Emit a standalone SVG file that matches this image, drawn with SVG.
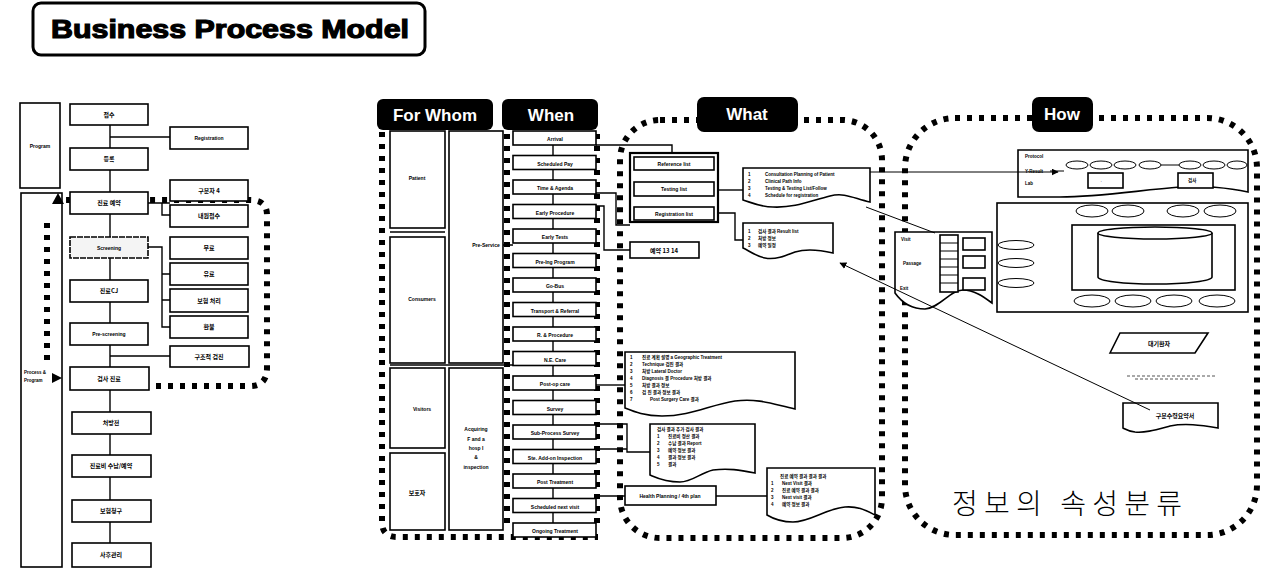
<svg xmlns="http://www.w3.org/2000/svg" width="1263" height="571" viewBox="0 0 1263 571">
<defs>
<style>
.bx{fill:#fff;stroke:#000;stroke-width:1.6}
.tk{fill:#fff;stroke:#000;stroke-width:2.2}
.ln{fill:none;stroke:#000;stroke-width:1.4}
.thin{fill:none;stroke:#000;stroke-width:1}
.dot{fill:none;stroke:#000;stroke-width:6;stroke-dasharray:5 7}
.hdr{fill:#000}
.ht{fill:#fff;font-family:"Liberation Sans",Arial,sans-serif;font-weight:bold;font-size:17px;text-anchor:middle}
.s{font-family:"Liberation Sans","Noto Sans CJK KR",sans-serif;font-weight:bold;font-size:5px;fill:#000;text-anchor:middle}
.k{font-family:"Noto Sans CJK KR",sans-serif;font-weight:bold;font-size:6px;fill:#000;text-anchor:middle}
.d{font-family:"Liberation Sans","Noto Sans CJK KR",sans-serif;font-weight:bold;font-size:4.5px;fill:#000}
</style>
<marker id="ah" viewBox="0 0 10 10" refX="9" refY="5" markerWidth="7" markerHeight="7" orient="auto"><path d="M0,0 L10,5 L0,10 Z" fill="#000"/></marker>
</defs>
<rect width="1263" height="571" fill="#fff"/>

<g id="title">
<rect x="33" y="3" width="392" height="52" rx="8" fill="#fff" stroke="#000" stroke-width="3"/>
<text x="230" y="38" font-family="'Liberation Sans',Arial,sans-serif" font-weight="bold" font-size="26" text-anchor="middle" textLength="358" lengthAdjust="spacingAndGlyphs" stroke="#000" stroke-width="1.2">Business Process Model</text>
</g>

<!-- ===== Left process ===== -->
<g id="left-program"><rect class="bx" x="20" y="103" width="40" height="85"/><text class="s" x="40" y="148">Program</text></g>
<g id="left-main"><rect class="bx" x="21" y="193" width="41" height="374"/><text class="d" x="24" y="374">Process &amp;</text><text class="d" x="24" y="382">Program</text></g>

<g id="left-connectors">
<path class="ln" d="M110,125 V148 M110,170 V192 M110,214 V237 M110,258 V280 M110,302 V323 M110,345 V367 M110,390 V412 M110,434 V455 M110,477 V500 M110,522 V543"/>
<path class="ln" d="M110,137 H170 M148,203 H170 M162,203 V215 H170 M148,247 H162 V327 H170 M162,274 H170 M162,300 H170 M110,356 H170"/>
<path class="dot" d="M72,386 H250 Q267,386 267,368 V215 Q267,200 250,200 H64"/>
<path class="dot" d="M47,360 V222"/>
<path d="M58,193 L52,204 L64,204 Z" fill="#000"/>
<path d="M62,378 L52,373 L52,383 Z" fill="#000"/>
</g>

<g id="l1"><rect class="bx" x="70" y="104" width="78" height="21"/><text class="k" x="109" y="117">접수</text></g>
<g id="l-reg"><rect class="bx" x="170" y="127" width="78" height="22"/><text class="s" x="209" y="140">Registration</text></g>
<g id="l2"><rect class="bx" x="70" y="148" width="78" height="22"/><text class="k" x="109" y="161">등록</text></g>
<g id="l3"><rect class="bx" x="70" y="192" width="78" height="22"/><text class="k" x="109" y="205">진료 예약</text></g>
<g id="l3a"><rect class="bx" x="170" y="180" width="78" height="21"/><text class="k" x="209" y="193">구분자 4</text></g>
<g id="l3b"><rect class="bx" x="170" y="205" width="78" height="22"/><text class="k" x="209" y="218">내원접수</text></g>
<g id="l4"><rect x="70" y="237" width="78" height="21" fill="#f4f4f4" stroke="#000" stroke-width="1.6" stroke-dasharray="6 1"/><text class="s" x="109" y="250">Screening</text></g>
<g id="l4a"><rect class="bx" x="170" y="237" width="78" height="22"/><text class="k" x="209" y="250">무료</text></g>
<g id="l4b"><rect class="bx" x="170" y="263" width="78" height="22"/><text class="k" x="209" y="276">유료</text></g>
<g id="l4c"><rect class="bx" x="170" y="289" width="78" height="23"/><text class="k" x="209" y="303">보험 처리</text></g>
<g id="l4d"><rect class="bx" x="170" y="316" width="78" height="22"/><text class="k" x="209" y="329">환불</text></g>
<g id="l5"><rect class="bx" x="70" y="280" width="78" height="22"/><text class="k" x="109" y="293">진료CJ</text></g>
<g id="l6"><rect class="bx" x="70" y="323" width="78" height="22"/><text class="s" x="109" y="336">Pre-screening</text></g>
<g id="l6a"><rect class="bx" x="170" y="346" width="79" height="21"/><text class="k" x="209" y="359">구조적 검진</text></g>
<g id="l7"><rect class="bx" x="70" y="367" width="79" height="23"/><text class="k" x="109" y="381">검사 진료</text></g>
<g id="l8"><rect class="bx" x="72" y="412" width="79" height="22"/><text class="k" x="111" y="425">처방전</text></g>
<g id="l9"><rect class="bx" x="72" y="455" width="79" height="22"/><text class="k" x="111" y="468">진료비 수납/예약</text></g>
<g id="l10"><rect class="bx" x="72" y="500" width="79" height="22"/><text class="k" x="111" y="513">보험청구</text></g>
<g id="l11"><rect class="bx" x="72" y="543" width="79" height="24"/><text class="k" x="111" y="557">사후관리</text></g>

<!-- ===== For Whom / When ===== -->
<g id="frame-fw">
<path class="dot" d="M382,132 V522 Q382,537 397,537 H598"/>
<path class="dot" d="M507,134 V530"/>
<path class="dot" d="M597,134 V530"/>
</g>
<g id="forwhom">
<rect class="hdr" x="377" y="99" width="116" height="31" rx="6"/><text class="ht" x="435" y="121">For Whom</text>
<rect class="bx" x="390" y="131" width="55" height="97"/><text class="s" x="417" y="180">Patient</text>
<rect class="bx" x="390" y="237" width="55" height="126"/><text class="s" x="422" y="301">Consumers</text>
<rect class="bx" x="390" y="368" width="55" height="80"/><text class="s" x="422" y="411">Visitors</text>
<rect class="bx" x="390" y="453" width="55" height="77"/><text class="k" x="417" y="495">보호자</text>
<rect class="bx" x="449" y="131" width="54" height="232"/><text class="s" x="486" y="247">Pre-Service</text>
<rect class="bx" x="449" y="368" width="54" height="162"/>
<text class="s" x="476" y="431">Acquiring</text><text class="s" x="476" y="441">F and a</text><text class="s" x="476" y="450">hosp I</text><text class="s" x="476" y="459">&amp;</text><text class="s" x="476" y="469">inspection</text>
</g>
<g id="when">
<rect class="hdr" x="502" y="99" width="96" height="31" rx="6"/><text class="ht" x="551" y="121">When</text>
<rect class="bx" x="513" y="131" width="83" height="14"/><text class="s" x="555" y="141">Arrival</text>
<rect class="bx" x="513" y="155.5" width="83" height="14"/><text class="s" x="555" y="165.5">Scheduled Pay</text>
<rect class="bx" x="513" y="180" width="83" height="14"/><text class="s" x="555" y="190">Time &amp; Agenda</text>
<rect class="bx" x="513" y="204.5" width="83" height="14"/><text class="s" x="555" y="214.5">Early Procedure</text>
<rect class="bx" x="513" y="229" width="83" height="14"/><text class="s" x="555" y="239">Early Tests</text>
<rect class="bx" x="513" y="253.5" width="83" height="14"/><text class="s" x="555" y="263.5">Pre-Ing Program</text>
<rect class="bx" x="513" y="278" width="83" height="14"/><text class="s" x="555" y="288">Go-Bus</text>
<rect class="bx" x="513" y="302.5" width="83" height="14"/><text class="s" x="555" y="312.5">Transport &amp; Referral</text>
<rect class="bx" x="513" y="327" width="83" height="14"/><text class="s" x="555" y="337">R. &amp; Procedure</text>
<rect class="bx" x="513" y="351.5" width="83" height="14"/><text class="s" x="555" y="361.5">N.E. Care</text>
<rect class="bx" x="513" y="376" width="83" height="14"/><text class="s" x="555" y="386">Post-op care</text>
<rect class="bx" x="513" y="400.5" width="83" height="14"/><text class="s" x="555" y="410.5">Survey</text>
<rect class="bx" x="513" y="425" width="83" height="14"/><text class="s" x="555" y="435">Sub-Process Survey</text>
<rect class="bx" x="513" y="449.5" width="83" height="14"/><text class="s" x="555" y="459.5">Ste. Add-on Inspection</text>
<rect class="bx" x="513" y="474" width="83" height="14"/><text class="s" x="555" y="484">Post Treatment</text>
<rect class="bx" x="513" y="498.5" width="83" height="14"/><text class="s" x="555" y="508.5">Scheduled next visit</text>
<rect class="bx" x="513" y="523" width="83" height="14"/><text class="s" x="555" y="533">Ongoing Treatment</text>
</g>

<!-- ===== What ===== -->
<g id="frame-what"><rect class="dot" x="620" y="120" width="262" height="418" rx="40"/></g>
<g id="what-hdr"><rect class="hdr" x="697" y="97" width="101" height="35" rx="7"/><text class="ht" x="747" y="120">What</text></g>
<g id="stack">
<rect class="tk" x="630" y="153" width="88" height="69"/>
<rect class="bx" x="634" y="157" width="80" height="13"/><text class="s" x="674" y="166">Reference list</text>
<rect class="bx" x="634" y="182" width="80" height="14"/><text class="s" x="674" y="191">Testing list</text>
<rect class="bx" x="634" y="207" width="80" height="13"/><text class="s" x="674" y="216">Registration list</text>
</g>
<g id="sched"><rect class="bx" x="630" y="242" width="69" height="16"/><text class="k" x="664" y="253">예약 13 14</text></g>
<g id="doc1"><path class="bx" d="M743,168 H870 V202 C855,199 845,192 830,196 C810,201 795,208 773,207 C760,207 750,202 743,200 Z"/>
<text class="d" x="748" y="176">1</text><text class="d" x="765" y="176">Consultation Planning of Patient</text>
<text class="d" x="748" y="183">2</text><text class="d" x="765" y="183">Clinical Path Info</text>
<text class="d" x="748" y="190">3</text><text class="d" x="765" y="190">Testing &amp;  Testing List/Follow</text>
<text class="d" x="748" y="197">4</text><text class="d" x="765" y="197">Schedule for registration</text></g>
<g id="doc2"><path class="bx" d="M743,223 H833 V253 C820,250 805,249 795,252 C785,256 775,260 765,258 C755,256 748,250 743,248 Z"/>
<text class="d" x="748" y="233">1</text><text class="d" x="758" y="233">검사 결과   Result list</text>
<text class="d" x="748" y="240">2</text><text class="d" x="758" y="240">처방 정보</text>
<text class="d" x="748" y="247">3</text><text class="d" x="758" y="247">예약 일정</text></g>
<g id="doc3"><path class="bx" d="M625,352 H795 V409 C775,405 760,398 735,401 C710,405 690,416 662,416 C645,416 635,412 625,408 Z"/>
<text class="d" x="630" y="359">1</text><text class="d" x="642" y="359">진료 계획 설명 a Geographic   Treatment</text>
<text class="d" x="630" y="366">2</text><text class="d" x="642" y="366">Technique 검진 결과</text>
<text class="d" x="630" y="373">3</text><text class="d" x="642" y="373">처방   Lateral Doctor</text>
<text class="d" x="630" y="380">4</text><text class="d" x="642" y="380">Diagnosis 결    Procedure 처방 결과</text>
<text class="d" x="630" y="387">5</text><text class="d" x="642" y="387">처방 결과 정보</text>
<text class="d" x="630" y="394">6</text><text class="d" x="642" y="394">검 진  결과  정보  결과</text>
<text class="d" x="630" y="401">7</text><text class="d" x="650" y="401">Post Surgery Care  결과</text></g>
<g id="doc4"><path class="bx" d="M650,424 H755 V473 C740,470 728,468 713,470 C700,473 692,482 680,482 C665,482 657,478 650,475 Z"/>
<text class="d" x="657" y="431">검사 결과  추가 검사  결과</text>
<text class="d" x="657" y="438">1</text><text class="d" x="668" y="438">진료비 정산  결과</text>
<text class="d" x="657" y="445">2</text><text class="d" x="668" y="445">수납 결과 Report</text>
<text class="d" x="657" y="452">3</text><text class="d" x="668" y="452">예약 정보  결과</text>
<text class="d" x="657" y="459">4</text><text class="d" x="668" y="459">결과 정보  결과</text>
<text class="d" x="657" y="466">5</text><text class="d" x="668" y="466">결과</text></g>
<g id="health"><rect class="bx" x="625" y="486" width="91" height="19"/><text class="s" x="670" y="498">Health Planning / 4th plan</text></g>
<g id="doc5"><path class="bx" d="M767,468 H875 V515 C865,510 858,506 845,507 C825,509 810,522 793,522 C780,522 772,518 767,515 Z"/>
<text class="d" x="780" y="478">진료 예약 결과  결과 결과</text>
<text class="d" x="771" y="485">1</text><text class="d" x="782" y="485">Next Visit  결과</text>
<text class="d" x="771" y="492">2</text><text class="d" x="782" y="492">진료 예약 결과  결과</text>
<text class="d" x="771" y="499">3</text><text class="d" x="782" y="499">Next visit  결과</text>
<text class="d" x="771" y="506">4</text><text class="d" x="782" y="506">예약 정보  결과</text></g>

<!-- ===== How ===== -->
<g id="frame-how"><rect class="dot" x="905" y="118" width="352" height="417" rx="50"/></g>
<g id="how-hdr"><rect class="hdr" x="1032" y="97" width="61" height="35" rx="7"/><text class="ht" x="1062" y="120">How</text></g>
<g id="how-top">
<path class="bx" d="M1018,150 H1248 V192 C1230,188 1200,185 1180,187 C1140,190 1100,197 1060,197 L1018,197 Z"/>
<text class="d" x="1025" y="158">Protocol</text><text class="d" x="1025" y="173">Y-Result</text><text class="d" x="1025" y="185">Lab</text>
<path class="thin" d="M1050,171 H1064"/>
<ellipse class="thin" cx="1077" cy="165" rx="11" ry="4"/><ellipse class="thin" cx="1101" cy="165" rx="11" ry="4"/><ellipse class="thin" cx="1125" cy="165" rx="11" ry="4"/><ellipse class="thin" cx="1150" cy="165" rx="11" ry="4"/><ellipse class="thin" cx="1190" cy="165" rx="11" ry="4"/><ellipse class="thin" cx="1214" cy="165" rx="11" ry="4"/><ellipse class="thin" cx="1237" cy="165" rx="10" ry="4"/>
<path class="thin" d="M1161,165 H1179"/>
<rect class="bx" x="1088" y="173" width="35" height="15"/><text class="d" x="1098" y="182">→</text>
<rect class="bx" x="1178" y="173" width="35" height="15"/><text class="d" x="1188" y="182">검사</text>
</g>
<g id="how-main">
<rect class="bx" x="997" y="203" width="251" height="109"/>
<rect class="bx" x="1072" y="225" width="163" height="65"/>
<path class="bx" d="M1098,233 V277 A57,7 0 0 0 1212,277 V233"/>
<ellipse class="bx" cx="1155" cy="233" rx="57" ry="6"/>
<ellipse class="thin" cx="1092" cy="211" rx="16" ry="6"/><ellipse class="thin" cx="1128" cy="211" rx="16" ry="6"/><ellipse class="thin" cx="1183" cy="211" rx="16" ry="6"/><ellipse class="thin" cx="1220" cy="211" rx="16" ry="6"/>
<ellipse class="thin" cx="1092" cy="301" rx="18" ry="6"/><ellipse class="thin" cx="1133" cy="301" rx="18" ry="6"/><ellipse class="thin" cx="1174" cy="301" rx="18" ry="6"/><ellipse class="thin" cx="1217" cy="301" rx="18" ry="6"/>
<ellipse class="thin" cx="1016" cy="245" rx="18" ry="4.5"/><ellipse class="thin" cx="1016" cy="263" rx="18" ry="4.5"/><ellipse class="thin" cx="1016" cy="283" rx="18" ry="4.5"/>
</g>
<g id="how-patient">
<path class="bx" d="M895,232 H992 V303 C985,298 975,290 963,290 C950,290 940,308 925,309 C910,309 900,300 895,293 Z"/>
<text class="d" x="901" y="241">Visit</text><text class="d" x="903" y="265">Passage</text><text class="d" x="900" y="290">Exit</text>
<rect class="bx" x="940" y="235" width="18" height="57"/>
<path class="thin" d="M940,243 H958 M940,251 H958 M940,259 H958 M940,267 H958 M940,275 H958 M940,283 H958"/>
<rect class="bx" x="963" y="238" width="22" height="12"/><rect class="bx" x="963" y="256" width="22" height="12"/><rect class="bx" x="963" y="278" width="22" height="12"/>
</g>
<g id="how-para"><path class="bx" d="M1110,353 L1120,333 H1208 L1195,353 Z"/><text class="k" x="1159" y="346">대기환자</text></g>
<g id="how-smudge"><path d="M1127,376 H1215 M1135,379 H1200" fill="none" stroke="#555" stroke-width="1" stroke-dasharray="3 2"/></g>
<g id="how-doc"><path class="bx" d="M1123,403 H1218 V428 C1200,425 1185,423 1170,426 C1155,430 1145,433 1135,432 C1128,431 1125,429 1123,428 Z"/><text class="k" x="1175" y="418">구분수령요약서</text></g>
<g id="how-caption"><text x="1067" y="514" font-family="'Noto Sans CJK KR',sans-serif" font-size="28" font-weight="300" text-anchor="middle" textLength="230" lengthAdjust="spacing">정보의 속성분류</text></g>

<g id="connectors">
<path class="ln" d="M553,145 V155.5 M553,169.5 V180 M553,194 V204.5 M553,218.5 V229 M553,243 V253.5 M553,267.5 V278 M553,292 V302.5 M553,316.5 V327 M553,341 V351.5 M553,365.5 V376 M553,390 V400.5 M553,414.5 V425 M553,439 V449.5 M553,463.5 V474 M553,488 V498.5 M553,512.5 V523"/>
<path class="ln" d="M503,245 H513 M445,232 H390 M390,365 H513"/>
<path class="ln" d="M596,145 H672 V153"/>
<path class="ln" d="M596,193 H616 V225 H630"/>
<path class="ln" d="M596,206 H604 V250 H630"/>
<path class="ln" d="M718,190 H743"/>
<path class="ln" d="M718,213 H735 V240 H743"/>
<path class="ln" d="M596,385 H625"/>
<path class="ln" d="M596,424 H627 V452 H650 M596,449 H627"/>
<path class="ln" d="M596,496 H625 M716,496 H767"/>
<path class="thin" d="M870,172 H1058" marker-end="url(#ah)"/>
<path class="thin" d="M866,207 L935,233"/>
<path class="thin" d="M1150,410 L840,263" marker-end="url(#ah)"/>
</g>
</svg>
